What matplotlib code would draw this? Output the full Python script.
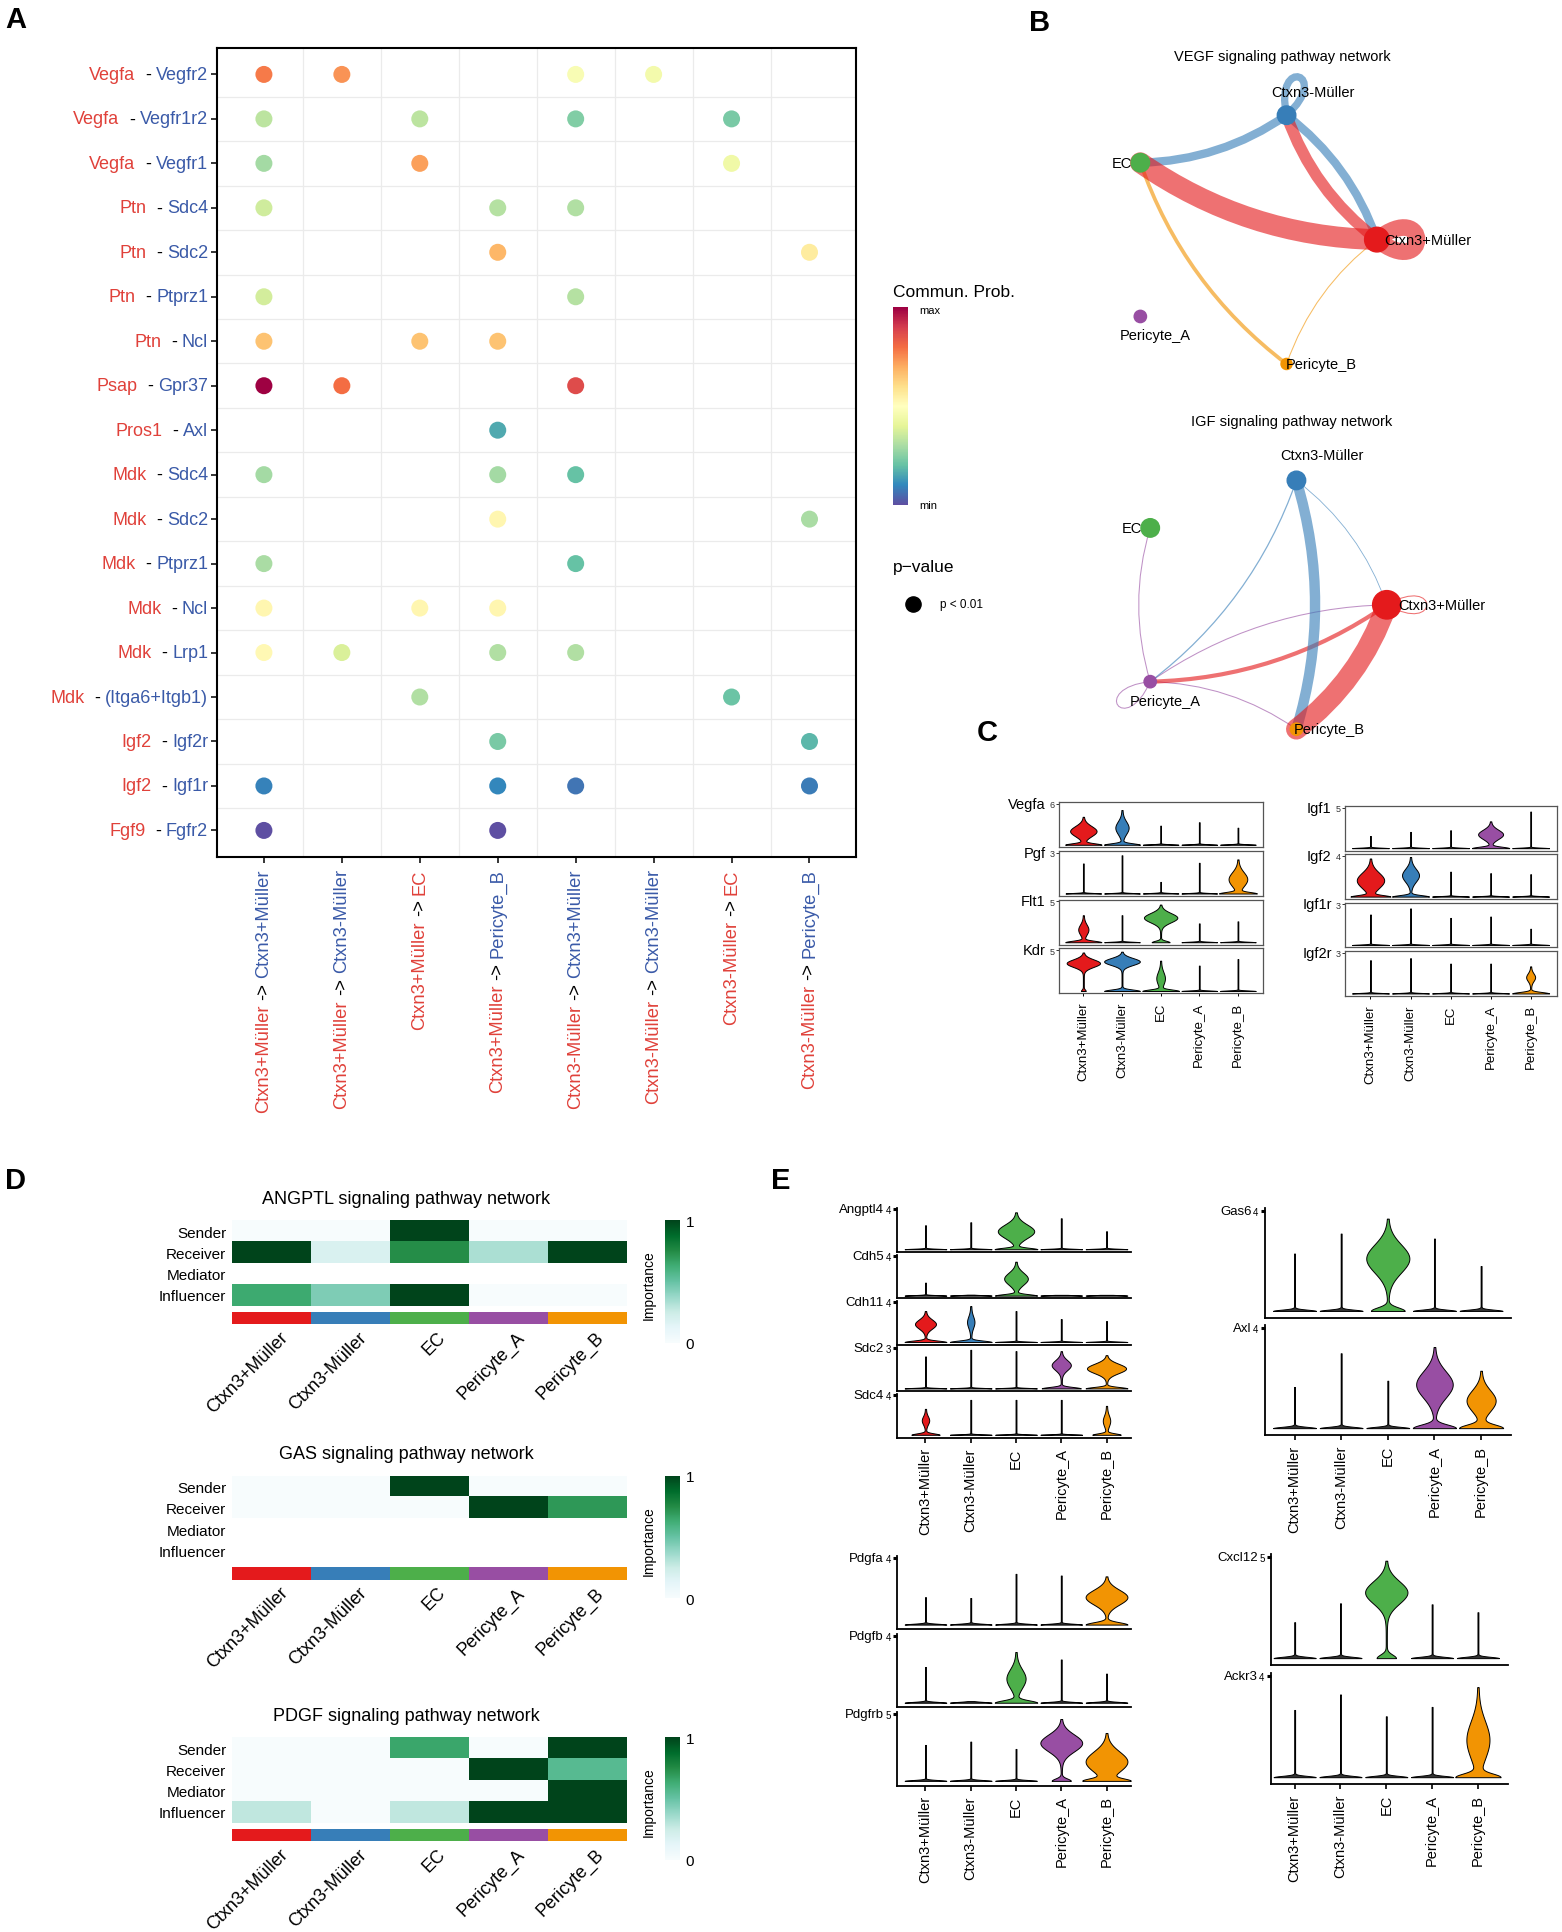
import numpy as np
import matplotlib
matplotlib.use('Agg')
import matplotlib.pyplot as plt
from matplotlib import font_manager
from matplotlib.patches import Circle, FancyArrowPatch, PathPatch
from matplotlib.path import Path
from matplotlib.colors import Normalize, ListedColormap, to_rgba
import matplotlib.colorbar as mcb

avail = {f.name for f in font_manager.fontManager.ttflist}
BASE = 'Liberation Sans' if 'Liberation Sans' in avail else 'DejaVu Sans'
NARROW = 'Liberation Sans Narrow' if 'Liberation Sans Narrow' in avail else BASE
plt.rcParams['font.family'] = [BASE, 'DejaVu Sans']

nan = np.nan

# ---------------- data ----------------
CELLS = ['Ctxn3+Müller', 'Ctxn3-Müller', 'EC', 'Pericyte_A', 'Pericyte_B']
CELL_COLORS = ['#E41A1C', '#377EB8', '#4DAF4A', '#984EA3', '#F29403']

# Panel A
A_lig = ['Vegfa', 'Vegfa', 'Vegfa', 'Ptn', 'Ptn', 'Ptn', 'Ptn', 'Psap', 'Pros1',
         'Mdk', 'Mdk', 'Mdk', 'Mdk', 'Mdk', 'Mdk', 'Igf2', 'Igf2', 'Fgf9']
A_rec = ['Vegfr2', 'Vegfr1r2', 'Vegfr1', 'Sdc4', 'Sdc2', 'Ptprz1', 'Ncl', 'Gpr37', 'Axl',
         'Sdc4', 'Sdc2', 'Ptprz1', 'Ncl', 'Lrp1', '(Itga6+Itgb1)', 'Igf2r', 'Igf1r', 'Fgfr2']
A_src = ['Ctxn3+Müller'] * 4 + ['Ctxn3-Müller'] * 4
A_tgt = ['Ctxn3+Müller', 'Ctxn3-Müller', 'EC', 'Pericyte_B'] * 2
A_tgt_is_red = [False, False, True, False, False, False, True, False]
A_prob = np.array([
    [0.78, 0.74, nan, nan, 0.47, 0.45, nan, nan],
    [0.33, nan, 0.33, nan, 0.24, nan, 0.23, nan],
    [0.29, nan, 0.72, nan, nan, nan, 0.44, nan],
    [0.36, nan, nan, 0.32, 0.31, nan, nan, nan],
    [nan, nan, nan, 0.68, nan, nan, nan, 0.56],
    [0.37, nan, nan, nan, 0.32, nan, nan, nan],
    [0.66, nan, 0.66, 0.66, nan, nan, nan, nan],
    [1.00, 0.80, nan, nan, 0.87, nan, nan, nan],
    [nan, nan, nan, 0.16, nan, nan, nan, nan],
    [0.29, nan, nan, 0.29, 0.20, nan, nan, nan],
    [nan, nan, nan, 0.53, nan, nan, nan, 0.30],
    [0.30, nan, nan, nan, 0.20, nan, nan, nan],
    [0.53, nan, 0.53, 0.53, nan, nan, nan, nan],
    [0.52, 0.38, nan, 0.31, 0.31, nan, nan, nan],
    [nan, nan, 0.31, nan, nan, nan, 0.21, nan],
    [nan, nan, nan, 0.23, nan, nan, nan, 0.18],
    [0.09, nan, nan, 0.10, 0.07, nan, nan, 0.08],
    [0.00, nan, nan, 0.00, nan, nan, nan, nan],
])

# Panel B networks (node index into CELLS)
VEGF_src = [0, 0, 0, 1, 1, 1, 4, 4]
VEGF_tgt = [2, 1, 0, 2, 0, 1, 2, 0]
VEGF_w = [1.0, 0.55, 0.8, 0.4, 0.4, 0.35, 0.18, 0.05]
VEGF_node = [0.10, 0.075, 0.075, 0.05, 0.045]
IGF_src = [0, 0, 0, 1, 1, 1, 3, 3, 3, 3]
IGF_tgt = [4, 3, 0, 4, 3, 0, 2, 0, 4, 3]
IGF_w = [1.0, 0.2, 0.05, 0.5, 0.06, 0.04, 0.05, 0.05, 0.05, 0.05]
IGF_node = [0.115, 0.075, 0.075, 0.05, 0.05]

# Panel C violins
CL_genes = ['Vegfa', 'Pgf', 'Flt1', 'Kdr']
CL_ymax = [6, 3, 5, 5]
CL_top = [[4.1, 5.1, 2.8, 3.3, 2.5], [2.2, 2.8, 0.85, 2.25, 2.5],
          [3.3, 3.3, 4.6, 2.3, 2.55], [4.7, 4.8, 3.7, 3.1, 3.9]]
CL_mid = [[2.0, 2.5, 0, 0, 0], [0, 0, 0, 0, 1.05], [1.55, 0, 3.0, 0, 0], [3.4, 3.6, 1.55, 0, 0]]
CL_bulge = [[0.33, 0.16, 0, 0, 0], [0, 0, 0, 0, 0.23], [0.12, 0, 0.42, 0, 0], [0.42, 0.45, 0.1, 0, 0]]
CL_base = [[0.45] * 5, [0.45] * 5, [0.45, 0.45, 0.22, 0.45, 0.45], [0.05, 0.45, 0.45, 0.45, 0.45]]

CR_genes = ['Igf1', 'Igf2', 'Igf1r', 'Igf2r']
CR_ymax = [5, 4, 3, 3]
CR_top = [[1.5, 2.0, 2.2, 3.3, 4.5], [3.75, 3.9, 2.45, 2.3, 2.2],
          [2.25, 2.7, 2.0, 2.1, 1.2], [2.45, 2.6, 2.2, 2.2, 2.0]]
CR_mid = [[0, 0, 0, 1.7, 0], [1.6, 2.1, 0, 0, 0], [0, 0, 0, 0, 0], [0, 0, 0, 0, 1.2]]
CR_bulge = [[0, 0, 0, 0.3, 0], [0.33, 0.2, 0, 0, 0], [0, 0, 0, 0, 0], [0, 0, 0, 0, 0.1]]
CR_base = [[0.45] * 5] * 4

# Panel D heatmaps
D_roles = ['Sender', 'Receiver', 'Mediator', 'Influencer']
D_titles = ['ANGPTL signaling pathway network', 'GAS signaling pathway network',
            'PDGF signaling pathway network']
D_ANGPTL = [[0, 0, 1, 0, 0], [1, 0.18, 0.74, 0.33, 1], [nan] * 5, [0.64, 0.44, 1, 0, 0]]
D_GAS = [[0, 0, 1, 0, 0], [0, 0, 0, 1, 0.7], [nan] * 5, [nan] * 5]
D_PDGF = [[0, 0, 0.65, 0, 1], [0, 0, 0, 1, 0.55], [0, 0, 0, 0, 1], [0.28, 0, 0.28, 1, 1]]

# Panel E violins
E1_genes = ['Angptl4', 'Cdh5', 'Cdh11', 'Sdc2', 'Sdc4']
E1_ymax = [4, 4, 4, 3, 4]
E1_top = [[2.4, 2.7, 3.7, 3.1, 1.8], [1.3, 0.1, 3.4, 0.05, 0.05], [3.1, 3.6, 3.1, 2.3, 2.1],
          [2.4, 2.9, 2.8, 2.8, 2.5], [2.6, 3.5, 3.5, 3.5, 2.9]]
E1_mid = [[0, 0, 1.8, 0, 0], [0, 0, 1.7, 0, 0], [1.8, 2.0, 0, 0, 0], [0, 0, 0, 1.75, 1.5],
          [1.45, 0, 0, 0, 1.4]]
E1_bulge = [[0, 0, 0.39, 0, 0], [0, 0, 0.25, 0, 0], [0.22, 0.07, 0, 0, 0], [0, 0, 0, 0.2, 0.42],
            [0.07, 0, 0, 0, 0.07]]
E1_base = [[0.45] * 5, [0.45] * 5, [0.45] * 5, [0.45, 0.45, 0.45, 0.42, 0.45],
           [0.3, 0.45, 0.45, 0.45, 0.3]]

E2_genes = ['Gas6', 'Axl']
E2_ymax = [4, 4]
E2_top = [[2.3, 3.1, 3.7, 2.9, 1.8], [1.65, 3.0, 1.9, 3.25, 2.3]]
E2_mid = [[0, 0, 2.1, 0, 0], [0, 0, 0, 1.75, 1.1]]
E2_bulge = [[0, 0, 0.45, 0, 0], [0, 0, 0, 0.38, 0.3]]
E2_base = [[0.45, 0.45, 0.35, 0.45, 0.45], [0.45] * 5]

E3_genes = ['Pdgfa', 'Pdgfb', 'Pdgfrb']
E3_ymax = [4, 4, 5]
E3_top = [[1.65, 1.6, 3.05, 2.95, 2.9], [2.15, 0.1, 3.05, 2.6, 1.75], [2.7, 2.95, 2.4, 4.65, 3.6]]
E3_mid = [[0, 0, 0, 0, 1.65], [0, 0, 1.45, 0, 0], [0, 0, 0, 2.85, 1.45]]
E3_bulge = [[0, 0, 0, 0, 0.45], [0, 0, 0.2, 0, 0], [0, 0, 0, 0.45, 0.45]]
E3_base = [[0.45] * 5, [0.45] * 5, [0.45, 0.45, 0.45, 0.2, 0.45]]

E4_genes = ['Cxcl12', 'Ackr3']
E4_ymax = [5, 4]
E4_top = [[1.77, 2.7, 4.8, 2.65, 2.26], [2.65, 3.26, 2.4, 2.77, 3.55]]
E4_mid = [[0, 0, 3.24, 0, 0], [0, 0, 0, 0, 1.47]]
E4_bulge = [[0, 0, 0.45, 0, 0], [0, 0, 0, 0, 0.24]]
E4_base = [[0.45, 0.45, 0.2, 0.45, 0.45], [0.45] * 5]

# ---------------- figure ----------------
W, H = 1266.0, 1566.7
fig = plt.figure(figsize=(15.62, 19.33), dpi=100)
fig.patch.set_facecolor('white')


def box(x0, y0, x1, y1):
    return [x0 / W, 1 - y1 / H, (x1 - x0) / W, (y1 - y0) / H]


def fxy(x, y):
    return (x / W, 1 - y / H)


for lab, (x, y) in zip('ABCDE', [(4, 5), (834, 7), (792, 583), (4, 946), (625, 946)]):
    fig.text(*fxy(x, y), lab, fontsize=21, fontweight='bold', ha='left', va='top')

# ---------------- Panel A ----------------
RED_T = '#E0413A'
BLUE_T = '#3A5AA8'
axA = fig.add_axes(box(176, 39.5, 694, 695.5))
nr, nc = A_prob.shape
rr, cc = np.where(~np.isnan(A_prob))
axA.scatter(cc + 1, rr + 1, c=A_prob[rr, cc], cmap='Spectral_r', vmin=0, vmax=1,
            s=150, zorder=3, edgecolors='none')
axA.set_xlim(0.4, nc + 0.6)
axA.set_ylim(nr + 0.6, 0.4)
for k in range(1, nc):
    axA.axvline(k + 0.5, color='#EBEBEB', lw=0.9, zorder=1)
for k in range(1, nr):
    axA.axhline(k + 0.5, color='#EBEBEB', lw=0.9, zorder=1)
axA.set_xticks(range(1, nc + 1))
axA.set_yticks(range(1, nr + 1))
axA.set_xticklabels([])
axA.set_yticklabels([])
axA.tick_params(length=4, width=1.1, color='black')
for s in axA.spines.values():
    s.set_linewidth(1.5)
    s.set_color('black')

yfs = 13.5 if NARROW != BASE else 13
for i in range(nr):
    t_rec = axA.annotate(A_rec[i], xy=(0, i + 1), xycoords=('axes fraction', 'data'),
                         xytext=(-6.5, 0), textcoords='offset points', ha='right', va='center',
                         color=BLUE_T, fontsize=yfs, family=NARROW)
    t_dash = axA.annotate('-', xy=(0, 0.5), xycoords=t_rec, xytext=(-3.5, 0),
                          textcoords='offset points', ha='right', va='center',
                          color='black', fontsize=yfs, family=NARROW)
    axA.annotate(A_lig[i], xy=(0, 0.5), xycoords=t_dash, xytext=(-7, 0),
                 textcoords='offset points', ha='right', va='center',
                 color=RED_T, fontsize=yfs, family=NARROW)

for j in range(nc):
    t1 = axA.annotate(A_tgt[j], xy=(j + 1, 0), xycoords=('data', 'axes fraction'),
                      xytext=(0, -8), textcoords='offset points', rotation=90,
                      ha='center', va='top', fontsize=13.2,
                      color=RED_T if A_tgt_is_red[j] else BLUE_T)
    t2 = axA.annotate('->', xy=(0.5, 0), xycoords=t1, xytext=(0, -3.5),
                      textcoords='offset points', rotation=90, ha='center', va='top',
                      fontsize=13.2, color='black')
    axA.annotate(A_src[j], xy=(0.5, 0), xycoords=t2, xytext=(0, -3.5),
                 textcoords='offset points', rotation=90, ha='center', va='top',
                 fontsize=13.2, color=RED_T)

# legend of A
fig.text(*fxy(724, 237), 'Commun. Prob.', fontsize=12.5, ha='left', va='center')
axCb = fig.add_axes(box(724, 250, 736, 410))
cbA = mcb.ColorbarBase(axCb, cmap=plt.get_cmap('Spectral_r'), norm=Normalize(0, 1),
                       orientation='vertical')
cbA.set_ticks([])
cbA.outline.set_visible(False)
fig.text(*fxy(745, 252), 'max', fontsize=8, ha='left', va='center')
fig.text(*fxy(745, 410), 'min', fontsize=8, ha='left', va='center')
fig.text(*fxy(724, 460), 'p\u2212value', fontsize=12.5, ha='left', va='center')
axPv = fig.add_axes(box(730, 480, 750, 500))
axPv.scatter([0], [0], s=120, color='black')
axPv.set_xlim(-1, 1)
axPv.set_ylim(-1, 1)
axPv.axis('off')
fig.text(*fxy(762, 490), 'p < 0.01', fontsize=8.5, ha='left', va='center')

# ---------------- Panel B ----------------
ANG = np.deg2rad([0, 72, 144, 216, 288])
R = 1.06


def rot(v, a):
    c, s = np.cos(a), np.sin(a)
    return np.array([c * v[0] - s * v[1], s * v[0] + c * v[1]])


def network(cx, cy, title, src, tgt, wts, nsize, lab_off):
    ax = fig.add_axes(box(cx - 150, cy - 150, cx + 150, cy + 150))
    ax.set_xlim(-1.5, 1.5)
    ax.set_ylim(-1.5, 1.5)
    ax.axis('off')
    ax.patch.set_alpha(0)
    pos = np.c_[R * np.cos(ANG), R * np.sin(ANG)]
    order = np.argsort(wts)
    for k in order:
        s, t, w = src[k], tgt[k], wts[k]
        col = to_rgba(CELL_COLORS[s], 0.62)
        lw = max(w * 15, 0.6)
        if s == t:
            p = pos[s]
            d = np.array([np.cos(ANG[s]), np.sin(ANG[s])])
            L = 0.55 if w > 0.5 else 0.5
            th = np.deg2rad(38 if w > 0.5 else 30)
            c1 = p + L * rot(d, th)
            c2 = p + L * rot(d, -th)
            path = Path([p, c1, c2, p], [Path.MOVETO, Path.CURVE4, Path.CURVE4, Path.CURVE4])
            ax.add_patch(PathPatch(path, fill=False, ec=col, lw=lw, zorder=2, clip_on=False))
        else:
            ar = FancyArrowPatch(pos[s], pos[t], connectionstyle='arc3,rad=-0.15',
                                 arrowstyle='-', lw=lw, color=col, shrinkA=0, shrinkB=0,
                                 zorder=2, clip_on=False)
            ax.add_patch(ar)
    for i in range(5):
        ax.add_patch(Circle(pos[i], nsize[i], color=CELL_COLORS[i], zorder=5, clip_on=False))
        dx, dy, ha = lab_off[i]
        ax.text(pos[i][0] + dx, pos[i][1] + dy, CELLS[i], ha=ha, va='center', fontsize=10.5,
                zorder=6)
    fig.text(*fxy(cx + 29, cy - 149), title, ha='center', va='center', fontsize=10.5)


network(1010, 195, 'VEGF signaling pathway network', VEGF_src, VEGF_tgt, VEGF_w, VEGF_node,
        [(0.06, 0.0, 'left'), (0.21, 0.19, 'center'), (-0.07, 0.0, 'right'),
         (0.12, -0.15, 'center'), (-0.01, 0.0, 'left')])
network(1018, 491, 'IGF signaling pathway network', IGF_src, IGF_tgt, IGF_w, IGF_node,
        [(0.09, 0.0, 'left'), (0.21, 0.21, 'center'), (-0.07, 0.0, 'right'),
         (0.12, -0.16, 'center'), (-0.02, 0.0, 'left')])


# ---------------- violins ----------------
def draw_violin(ax, xc, top, mid, bulge, base, ymax, color):
    top = max(top, 0.02 * ymax)
    y = np.linspace(0, top, 300)
    if bulge > 0:
        h0 = 0.05 * ymax
        w = base * np.exp(-(y / h0) ** 2) + 0.012
        s = max((top - mid) / 2.0, 0.08 * ymax)
        w = w + bulge * np.exp(-((y - mid) / s) ** 2)
        ax.fill_betweenx(y, xc - w, xc + w, facecolor=color, edgecolor='black',
                         linewidth=0.7, zorder=3)
    else:
        h0 = 0.018 * ymax
        w = base * np.exp(-(y / h0) ** 2) + 0.01
        ax.fill_betweenx(y, xc - w, xc + w, facecolor='#333333', edgecolor='black',
                         linewidth=0.7, zorder=3)


def violin_stack(xr, yr, gap, genes, ymax, top, mid, bulge, base, xlim, style,
                 name_fs, tick_fs, xl_fs):
    x0, x1 = xr
    y0, y1 = yr
    n = len(genes)
    rh = (y1 - y0 - gap * (n - 1)) / n
    xs = np.arange(1, 6)
    for i, g in enumerate(genes):
        yt = y0 + i * (rh + gap)
        ax = fig.add_axes(box(x0, yt, x1, yt + rh))
        ax.patch.set_alpha(0)
        for j in range(5):
            draw_violin(ax, xs[j], top[i][j], mid[i][j], bulge[i][j], base[i][j], ymax[i],
                        CELL_COLORS[j])
        ax.set_xlim(*xlim)
        if style == 'box':
            ax.set_ylim(-0.06 * ymax[i], 1.04 * ymax[i])
            for s in ax.spines.values():
                s.set_linewidth(0.9)
                s.set_color('#555555')
            ax.tick_params(axis='y', length=2, width=0.7, pad=1, labelsize=tick_fs,
                           colors='#333333')
        else:
            ax.set_ylim(-0.07 * ymax[i], 1.03 * ymax[i])
            ax.spines['top'].set_visible(False)
            ax.spines['right'].set_visible(False)
            for s in ('left', 'bottom'):
                ax.spines[s].set_linewidth(1.3)
                ax.spines[s].set_color('black')
            ax.tick_params(axis='y', length=3, width=2.2, pad=1.5, labelsize=tick_fs)
        ax.set_yticks([ymax[i]])
        ax.set_yticklabels([str(ymax[i])])
        ax.annotate(g, xy=(0, ymax[i]), xycoords=('axes fraction', 'data'),
                    xytext=(-9.5, 0), textcoords='offset points', ha='right', va='center',
                    fontsize=name_fs)
        if i == n - 1:
            ax.set_xticks(xs)
            ax.set_xticklabels(CELLS, rotation=90, fontsize=xl_fs)
            ax.tick_params(axis='x', length=3.5 if style != 'box' else 2.5,
                           width=1.2 if style != 'box' else 0.7)
        else:
            ax.set_xticks([])


violin_stack((858, 1024), (651, 806), 3, CL_genes, CL_ymax, CL_top, CL_mid, CL_bulge,
             CL_base, (0.36, 5.66), 'box', 10.5, 6.5, 9.5)
violin_stack((1090, 1262), (654, 808), 3, CR_genes, CR_ymax, CR_top, CR_mid, CR_bulge,
             CR_base, (0.36, 5.66), 'box', 10.5, 6.5, 9.5)
violin_stack((727, 917), (980, 1166), 2, E1_genes, E1_ymax, E1_top, E1_mid, E1_bulge,
             E1_base, (0.37, 5.55), 'classic', 9.5, 7, 10.5)
violin_stack((1025, 1225), (980, 1164), 6, E2_genes, E2_ymax, E2_top, E2_mid, E2_bulge,
             E2_base, (0.36, 5.65), 'classic', 9.5, 7, 10.5)
violin_stack((727, 917), (1262, 1448), 4, E3_genes, E3_ymax, E3_top, E3_mid, E3_bulge,
             E3_base, (0.37, 5.55), 'classic', 9.5, 7, 10.5)
violin_stack((1030, 1222), (1260, 1447), 6, E4_genes, E4_ymax, E4_top, E4_mid, E4_bulge,
             E4_base, (0.48, 5.65), 'classic', 9.5, 7, 10.5)

# ---------------- Panel D ----------------
cmapD = plt.get_cmap('BuGn').copy()
cmapD.set_bad('white')
for top_y, title, mat in zip([990, 1197, 1409], D_titles, [D_ANGPTL, D_GAS, D_PDGF]):
    ax = fig.add_axes(box(188, top_y, 508, top_y + 69))
    ax.imshow(np.ma.masked_invalid(np.array(mat, dtype=float)), cmap=cmapD, vmin=0, vmax=1,
              aspect='auto', interpolation='nearest')
    ax.set_xticks([])
    ax.set_yticks(range(4))
    ax.set_yticklabels(D_roles, fontsize=11)
    ax.tick_params(length=0, pad=4)
    for s in ax.spines.values():
        s.set_visible(False)
    axb = fig.add_axes(box(188, top_y + 74, 508, top_y + 84))
    axb.imshow([np.arange(5)], cmap=ListedColormap(CELL_COLORS), aspect='auto',
               interpolation='nearest')
    axb.axis('off')
    for j, c in enumerate(CELLS):
        axb.annotate(c, xy=(j + 0.1, 0.5), xycoords='data', xytext=(0, -3),
                     textcoords='offset points', rotation=45, ha='right', va='top',
                     rotation_mode='anchor', fontsize=13, annotation_clip=False)
    fig.text(*fxy(329, top_y - 18), title, ha='center', va='center', fontsize=13)
    axc = fig.add_axes(box(539, top_y, 551, top_y + 99))
    cb = mcb.ColorbarBase(axc, cmap=plt.get_cmap('BuGn'), norm=Normalize(0, 1),
                          orientation='vertical')
    cb.outline.set_visible(False)
    cb.set_ticks([0, 1])
    cb.set_ticklabels(['0', '1'])
    axc.tick_params(length=0, labelsize=11, pad=4)
    fig.text(*fxy(526, top_y + 52), 'Importance', rotation=90, ha='center', va='center',
             fontsize=10)

fig.savefig('out.png', dpi=100, facecolor='white')
